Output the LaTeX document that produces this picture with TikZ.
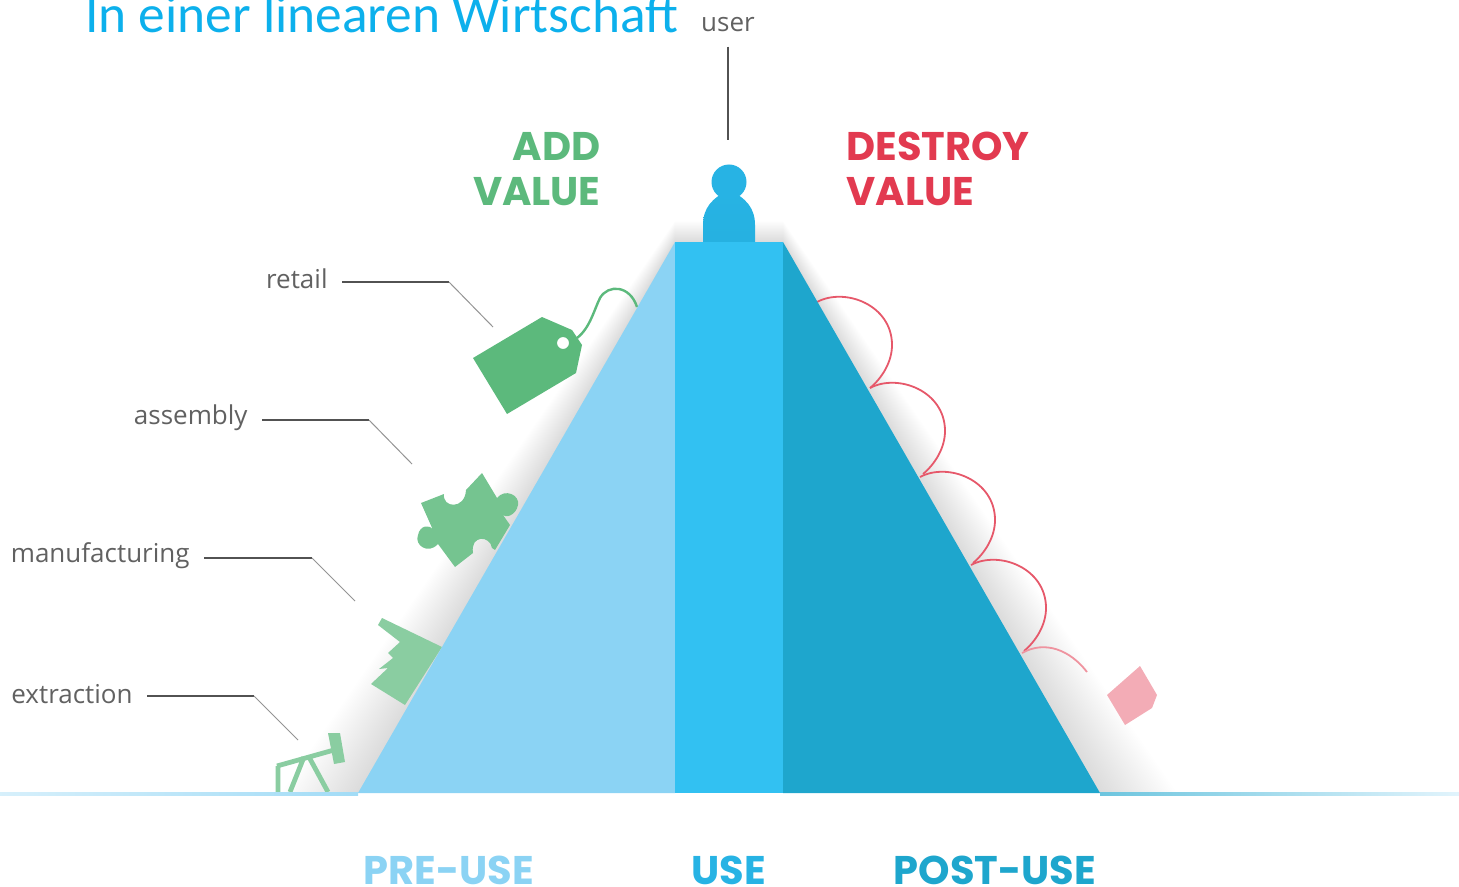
\documentclass[tikz,border=0pt]{standalone}
\usepackage{fontspec}
\setmainfont{Open Sans}
\newfontfamily\titlefont{Carlito}
\newfontfamily\headfont{Poppins}
\definecolor{preblue}{HTML}{8BD3F4}
\definecolor{useblue}{HTML}{32C1F2}
\definecolor{postblue}{HTML}{1EA6CD}
\definecolor{userblue}{HTML}{27B3E4}
\definecolor{addgreen}{HTML}{5CB97C}
\definecolor{destroyred}{HTML}{E23A50}
\definecolor{titleblue}{HTML}{0CB0EC}
\tikzset{
    lbl/.style={text=black!62, font=\fontsize{13}{15}\selectfont, inner xsep=7pt, inner ysep=0pt},
    head/.style={font=\headfont\fontsize{20}{22}\selectfont\bfseries, inner sep=0pt},
    leader/.style={draw=black!68, line width=.8pt},
    leaderend/.style={draw=black!42, line width=.5pt},
    wasteline/.style={draw=destroyred!85, line width=.9pt}
}

\begin{document}
\begin{tikzpicture}[x=.5pt, y=-.5pt]
    \useasboundingbox (0,0) rectangle (1459,887);

    % soft shadow round the pyramid
    \foreach \d in {2,4,...,70}
        \fill[black, opacity=.0035] (358-1.1*\d,793) -- (675,242-.3*\d) -- (783,242-.3*\d) -- (1100+1.1*\d,793) -- cycle;
    \foreach \d in {2,4,...,36}
        \fill[black, opacity=.0012] (358-\d,793) rectangle (1100+\d,793+\d);

    % user
    \shade[top color=userblue, bottom color=userblue!85!postblue]
        (703,243) -- (703,225) .. controls (703,208) and (712,198) .. (729,190) .. controls (746,198) and (755,208) .. (755,225) -- (755,243) -- cycle;
    \node[circle, fill=userblue, minimum size=17.5pt, inner sep=0pt] at (729,182)(userhead){};

    % waste curls
    \foreach \dx/\dy in {0/0,53/86,103/175,154/263}
        \draw[wasteline, shift={(\dx,\dy)}] (817,302) .. controls (845,287) and (892,305) .. (892,345) .. controls (892,362) and (882,378) .. (870,388);
    \draw[wasteline, draw=destroyred!55] (1022,653) .. controls (1045,640) and (1070,650) .. (1087,672);
    \fill[destroyred!42] (1107,695) -- (1140,666) -- (1157,695) -- (1152,708) -- (1125,725) -- cycle;

    % tag
    \fill[addgreen, even odd rule] (473,358) -- (542,317) -- (572,330) -- (582,345) -- (576,373) -- (507,414) -- cycle (569,343) arc[start angle=0, end angle=360, radius=6];
    \draw[addgreen, line width=1.2pt] (577,338) .. controls (590,328) and (594,310) .. (600,298) .. controls (608,284) and (630,285) .. (637,307);

    % puzzle
    \fill[addgreen!85!white] (421,503) -- (444,494) .. controls (442,508) and (465,510) .. (466,490) -- (482,473) -- (497,498)
        .. controls (505,488) and (520,495) .. (518,505) .. controls (516,516) and (505,518) .. (503,515) -- (510,525) -- (495,550) -- (492,548)
        .. controls (490,535) and (470,535) .. (473,553) -- (455,567) -- (438,544)
        .. controls (428,555) and (414,545) .. (418,535) .. controls (420,525) and (430,524) .. (433,530) -- cycle;

    % factory
    \fill[addgreen!72!white] (382,618) -- (442,647) -- (405,705) -- (371,684) -- (388,668) -- (379,669) -- (393,658) -- (388,653) -- (400,642) -- (378,625) -- cycle;

    % pump
    \fill[addgreen!72!white] (328,733) -- (340,733) -- (345,762) -- (334,764) -- cycle;
    \draw[addgreen!72!white, line width=2.4pt] (277,766) -- (334,750) (278,766) -- (278,792) (304,757) -- (290,792) (309,757) -- (328,792);

    % pyramid
    \fill[preblue] (358,793) -- (675,242) -- (675,793) -- cycle;
    \fill[useblue] (675,242) rectangle (783,793);
    \fill[postblue] (783,242) -- (1100,793) -- (783,793) -- cycle;

    % ground
    \shade[left color=preblue!35, right color=preblue!80] (0,792) rectangle (358,795);
    \shade[left color=postblue!65, right color=preblue!25] (1100,792) rectangle (1459,795);

    % texts
    \node[anchor=base west, text=titleblue, inner sep=0pt, font=\titlefont\fontsize{26.7}{28}\selectfont] at (85,33)(title){In einer linearen Wirtschaft};
    \node[lbl] at (728,25)(user){user};
    \node[lbl, anchor=east] at (342,279)(retail){retail};
    \node[lbl, anchor=east] at (262,418)(assembly){assembly};
    \node[lbl, anchor=east] at (204,556)(manufacturing){manufacturing};
    \node[lbl, anchor=east] at (147,694)(extraction){extraction};

    \node[head, text=addgreen, anchor=east] at (601,146)(add){ADD};
    \node[head, text=addgreen, anchor=east] at (601,192)(value){VALUE};
    \node[head, text=destroyred, anchor=west] at (846,146)(destroy){DESTROY};
    \node[head, text=destroyred, anchor=west] at (846,192)(lost){VALUE};

    \node[head, text=preblue] at (449,870)(preuse){PRE-USE};
    \node[head, text=userblue] at (729,870)(use){USE};
    \node[head, text=postblue] at (995,870)(postuse){POST-USE};

    % leaders
    \coordinate (userend) at (728,140);
    \coordinate (retailbend) at (449,282);
    \coordinate (retailend) at (493,327);
    \coordinate (assemblybend) at (369,420);
    \coordinate (assemblyend) at (412,464);
    \coordinate (manufacturingbend) at (312,558);
    \coordinate (manufacturingend) at (355,601);
    \coordinate (extractionbend) at (254,696);
    \coordinate (extractionend) at (298,740);

    \draw[leader, shorten <=7pt] (user.south) -- (userend);
    \foreach \n/\s in {retail/1.5,assembly/1,manufacturing/1,extraction/1}{
        \draw[leader] ([yshift=-\s pt]\n.east) -- (\n bend);
        \draw[leaderend] (\n bend) -- (\n end);
    }
\end{tikzpicture}
\end{document}
